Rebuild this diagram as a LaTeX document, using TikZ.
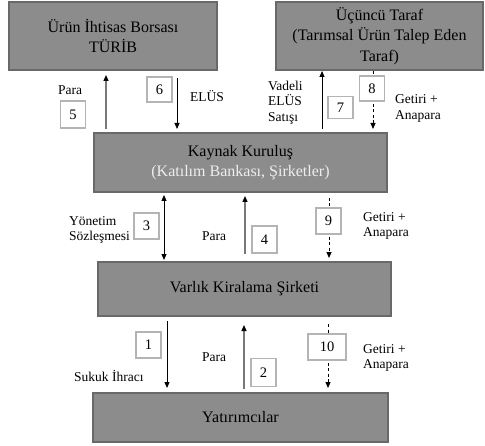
\documentclass[tikz,border=0pt]{standalone}
\usepackage{fontspec}
\setmainfont{Liberation Serif}
\usetikzlibrary{arrows.meta}
\definecolor{boxfill}{RGB}{140,140,140}
\definecolor{boxline}{RGB}{105,105,105}
\definecolor{numline}{RGB}{180,180,180}
\definecolor{uparrowcol}{RGB}{120,120,120}
\definecolor{subtext}{RGB}{238,238,238}
\begin{document}
\begin{tikzpicture}[x=1bp,y=-1bp,
  mainbox/.style={draw=boxline,fill=boxfill,line width=2bp,outer sep=0pt,inner sep=0pt,
    align=center,font=\fontsize{16bp}{20.5bp}\selectfont},
  numbox/.style={draw=numline,fill=white,line width=1.2bp,inner sep=0pt,
    minimum width=25bp,minimum height=25bp,font=\fontsize{14.5bp}{16bp}\selectfont},
  lbl/.style={inner sep=0pt,anchor=west,align=left,font=\fontsize{13.5bp}{15.5bp}\selectfont},
  tipb/.style={-{Triangle[length=6bp,width=5bp,color=black]}},
  blackarrow/.style={tipb,line width=1bp,black},
  grayarrow/.style={tipb,line width=1.3bp,uparrowcol},
  dasharrow/.style={tipb,line width=1bp,black,dash pattern=on 3bp off 2.5bp},
  botharrow/.style={{Triangle[length=6bp,width=5bp]}-{Triangle[length=6bp,width=5bp]},line width=1bp,black}
]
\useasboundingbox (0,0) rectangle (485,446);

% main boxes
\node[mainbox,minimum width=208bp,minimum height=68bp] (turib) at (113,36) {Ürün İhtisas Borsası\\TÜRİB};
\node[mainbox,minimum width=207bp,minimum height=68bp] (ucuncu) at (379.5,36) {Üçüncü Taraf\\(Tarımsal Ürün Talep Eden\\Taraf)};
\node[mainbox,minimum width=293bp,minimum height=59bp] (kaynak) at (240.5,162.5) {Kaynak Kuruluş\\\textcolor{subtext}{(Katılım Bankası, Şirketler)}};
\node[mainbox,minimum width=293bp,minimum height=54bp] (varlik) at (244.5,289) {Varlık Kiralama Şirketi};
\node[mainbox,minimum width=295bp,minimum height=49bp] (yatirim) at (240.5,417.5) {Yatırımcılar};

% x positions of connectors
\coordinate (x5) at (106,0);
\coordinate (x6) at (177,0);
\coordinate (x7) at (322,0);
\coordinate (x8) at (373,0);
\coordinate (x3) at (164,0);
\coordinate (x4) at (245,0);
\coordinate (x9) at (329,0);
\coordinate (x1) at (167,0);
\coordinate (x2) at (244,0);
\coordinate (x10) at (328,0);

% connectors
\draw[grayarrow,shorten <=4bp,shorten >=5bp] (x5 |- kaynak.north) -- (x5 |- turib.south);
\draw[blackarrow,shorten <=8bp,shorten >=4bp] (x6 |- turib.south) -- (x6 |- kaynak.north);
\draw[blackarrow,shorten <=4bp,shorten >=1bp] (x7 |- kaynak.north) -- (x7 |- ucuncu.south);
\draw[dasharrow,shorten <=1bp,shorten >=4bp] (x8 |- ucuncu.south) -- (x8 |- kaynak.north);
\draw[botharrow,shorten <=3bp,shorten >=2bp] (x3 |- kaynak.south) -- (x3 |- varlik.north);
\draw[grayarrow,shorten <=8bp,shorten >=4bp] (x4 |- varlik.north) -- (x4 |- kaynak.south);
\draw[dasharrow,shorten <=6bp,shorten >=4bp] (x9 |- kaynak.south) -- (x9 |- varlik.north);
\draw[blackarrow,shorten <=5bp,shorten >=5bp] (x1 |- varlik.south) -- (x1 |- yatirim.north);
\draw[grayarrow,shorten <=4bp,shorten >=9bp] (x2 |- yatirim.north) -- (x2 |- varlik.south);
\draw[dasharrow,shorten <=8bp,shorten >=5bp] (x10 |- varlik.south) -- (x10 |- yatirim.north);

% number boxes
\node[numbox,minimum height=27bp] (n5) at (73,114.5) {5};
\node[numbox] (n6) at (159.5,89.5) {6};
\node[numbox,minimum height=22bp] (n7) at (340.5,107.5) {7};
\node[numbox] (n8) at (372,88.5) {8};
\node[numbox,minimum height=26bp] (n3) at (146.5,226) {3};
\node[numbox,minimum height=27bp] (n4) at (264.5,239.5) {4};
\node[numbox,minimum height=26bp] (n9) at (328.5,221) {9};
\node[numbox,minimum height=26bp] (n1) at (148.5,345) {1};
\node[numbox,minimum height=28bp] (n2) at (263.5,372.5) {2};
\node[numbox,minimum width=38bp,minimum height=26bp] (n10) at (327,347) {10};

% labels
\node[lbl] (l5) at (58,90) {Para};
\node[lbl] (l6) at (190,96) {ELÜS};
\node[lbl] (l7) at (268,102.5) {Vadeli\\ELÜS\\Satışı};
\node[lbl] (l8) at (395,108.5) {Getiri +\\Anapara};
\node[lbl] (l3) at (69,230) {Yönetim\\Sözleşmesi};
\node[lbl] (l4) at (202,236) {Para};
\node[lbl] (l9) at (363,226) {Getiri +\\Anapara};
\node[lbl] (l1) at (74,376) {Sukuk İhracı};
\node[lbl] (l2) at (202,357) {Para};
\node[lbl] (l10) at (363,358) {Getiri +\\Anapara};
\end{tikzpicture}
\end{document}
